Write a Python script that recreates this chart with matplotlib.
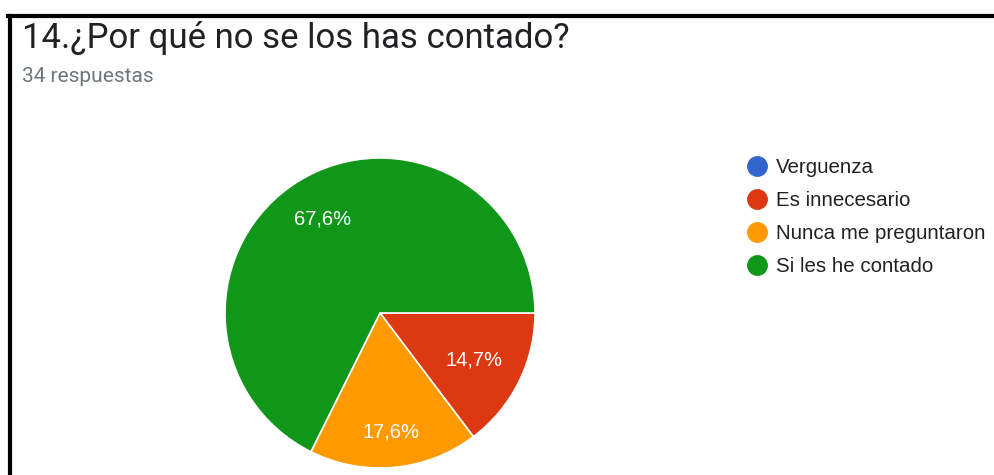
import matplotlib.pyplot as plt
from matplotlib.lines import Line2D
import numpy as np

plt.rcParams['font.family'] = ['Roboto', 'DejaVu Sans']

title = '14.¿Por qué no se los has contado?'
subtitle = '34 respuestas'
labels = ['Verguenza', 'Es innecesario', 'Nunca me preguntaron', 'Si les he contado']
counts = [0, 5, 6, 23]
colors = ['#3366cc', '#dc3912', '#ff9900', '#109618']

W, H = 995, 475
fig = plt.figure(figsize=(W / 100, H / 100), dpi=100)

# pie centred at (380, 313) px, radius 155 px
cx, cy, r = 380, 313, 155
ax = fig.add_axes([(cx - r) / W, (H - cy - r) / H, 2 * r / W, 2 * r / H])
wedges, _ = ax.pie(counts, colors=colors, startangle=0, counterclock=False,
                   wedgeprops=dict(edgecolor='white', linewidth=1.2))
ax.set_xlim(-1, 1)
ax.set_ylim(-1, 1)
ax.set_aspect('equal')
ax.axis('off')

total = sum(counts)
label_dist = [0.7, 0.68, 0.77, 0.71]
for w, n, d in zip(wedges, counts, label_dist):
    if n == 0:
        continue
    ang = np.deg2rad((w.theta1 + w.theta2) / 2)
    pct = f'{100 * n / total:.1f}'.replace('.', ',') + '%'
    ax.text(d * np.cos(ang), d * np.sin(ang), pct, color='white',
            fontsize=14.5, ha='center', va='center', family=['Liberation Sans', 'DejaVu Sans'])

fig.text(22 / W, 1 - 38 / H, title, fontsize=25, color='#202124', va='center', ha='left')
fig.text(22 / W, 1 - 77 / H, subtitle, fontsize=15, color='#70757a', va='center', ha='left')

handles = [Line2D([], [], marker='o', linestyle='', markersize=14,
                  markerfacecolor=c, markeredgecolor=c) for c in colors]
fig.legend(handles, labels, loc='upper left', bbox_to_anchor=(745 / W, 1 - 158 / H),
           frameon=False, labelspacing=0.68, handletextpad=0.3,
           handlelength=1.2, borderaxespad=0, borderpad=0,
           labelcolor='#222222', prop={'family': ['Liberation Sans', 'DejaVu Sans'], 'size': 14.8})

# black frame on top and left
fig.add_artist(Line2D([8 / W, 1], [1 - 15.5 / H, 1 - 15.5 / H], color='black', linewidth=3,
                      transform=fig.transFigure))
fig.add_artist(Line2D([9.5 / W, 9.5 / W], [0, 1 - 15.5 / H], color='black', linewidth=3,
                      transform=fig.transFigure))

fig.savefig('out.png', dpi=100)
